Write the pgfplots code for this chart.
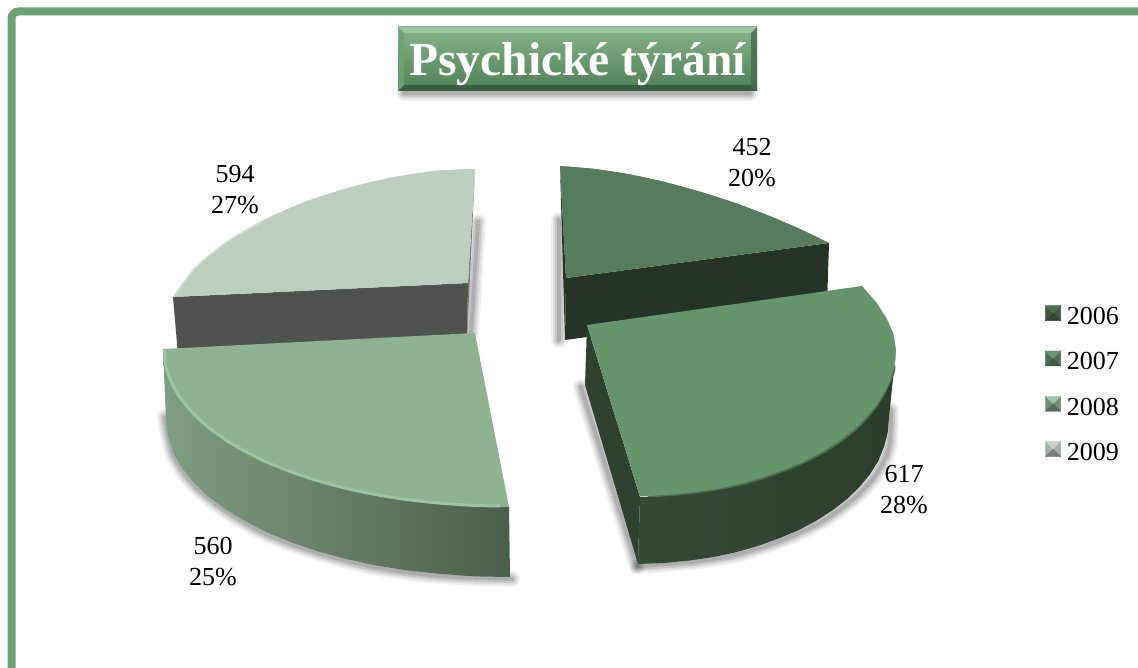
\documentclass[border=0pt]{standalone}
\usepackage{fontspec}
\setmainfont{Liberation Serif}
\usepackage{pgfplots}
\pgfplotsset{compat=1.18}
\definecolor{frame}{HTML}{6FA275}
\definecolor{titleA}{HTML}{85B588}
\definecolor{titleB}{HTML}{4F8056}
\definecolor{titleC}{HTML}{3A5F3E}
\definecolor{topA}{HTML}{577C5B}
\definecolor{wallA}{HTML}{253426}
\definecolor{topB}{HTML}{66956C}
\definecolor{wallB}{HTML}{2B3E2C}
\definecolor{topC}{HTML}{8FB291}
\definecolor{rimC}{HTML}{9CC6A0}
\definecolor{wallCl}{HTML}{7F9E82}
\definecolor{wallCr}{HTML}{4A5F4B}
\definecolor{topD}{HTML}{BCCFBF}
\definecolor{wallD}{HTML}{4D544B}
% soft shadow: stacked strokes
\newcommand\soft[1]{%
  \addplot[black,opacity=.06,line width=16pt,line cap=round,smooth,forget plot] coordinates {#1};
  \addplot[black,opacity=.08,line width=12pt,line cap=round,smooth,forget plot] coordinates {#1};
  \addplot[black,opacity=.10,line width=8pt,line cap=round,smooth,forget plot] coordinates {#1};
  \addplot[black,opacity=.12,line width=4pt,line cap=round,smooth,forget plot] coordinates {#1};
}
\newcommand\pyr[4]{%
  \addlegendimage{legend image code/.code={
    \fill[#2] (0pt,-4pt)--(0pt,11pt)--(7.5pt,3.5pt)--cycle;
    \fill[#2] (15pt,-4pt)--(15pt,11pt)--(7.5pt,3.5pt)--cycle;
    \fill[#1] (0pt,11pt)--(15pt,11pt)--(7.5pt,3.5pt)--cycle;
    \fill[#3] (0pt,-4pt)--(15pt,-4pt)--(7.5pt,3.5pt)--cycle;
  }}
  \addlegendentry{#4}
}
\begin{document}
\begin{tikzpicture}
\begin{axis}[
  scale only axis,
  width=1138pt,height=668pt,
  xmin=0,xmax=1138,ymin=0,ymax=668,
  y dir=reverse,
  hide axis,
  title={Psychické týrání},
  title style={at={(0.5075,0.895)},anchor=center,text=white,
    font=\fontsize{47.5}{52}\selectfont\bfseries},
  legend style={at={(0.9185,0.543)},anchor=north west,draw=none,fill=none,
    inner sep=0pt,row sep=24.7pt,column sep=6pt,font=\fontsize{26}{28}\selectfont,
    nodes={inner sep=0pt}},
  legend cell align=left,
  every axis plot/.append style={forget plot},
]
\path (axis cs:0,0) rectangle (axis cs:1138,668);
% frame, open to the right and below
\addplot[frame,line width=8pt,rounded corners=7pt] coordinates {(11.5,700) (11.5,11.5) (1170,11.5)};

% title box
\soft{(404,93) (750,93)}
\addplot[draw=none,top color=titleA,bottom color=titleB] coordinates {(398,27) (757,27) (757,91) (398,91)};
\addplot[draw=none,fill=rimC] coordinates {(398,27) (757,27) (751,33) (404,33)};
\addplot[draw=none,fill=titleC] coordinates {(398,91) (757,91) (751,85) (404,85)};
\addplot[draw=none,fill=frame,opacity=.8] coordinates {(398,27) (404,33) (404,85) (398,91)};
\addplot[draw=none,fill=black!35!frame,opacity=.8] coordinates {(757,27) (751,33) (751,85) (757,91)};

% back slices: shadows
\soft{(559,220) (559,340)}
\soft{(478,222) (471,333)}

% 2006
\addplot[draw=none,fill=wallA] coordinates {(566,278) (829,243) (827,305) (565,340)};
\addplot[draw=none,fill=wallA] coordinates {(560,166) (566,278) (565,340)};
\addplot[draw=none,fill=topA] coordinates {(566,278) (560,166) (594.3,168.9) (629.6,174.3) (665.1,182.1) (700.5,191.8) (735,202.9) (768.4,215.5) (799.9,229) (829,243)};
\addplot[draw=none,fill=topA,smooth] coordinates {(560,166) (594.3,168.9) (629.6,174.3) (665.1,182.1) (700.5,191.8) (735,202.9) (768.4,215.5) (799.9,229) (829,243)};

% 2009
\addplot[draw=none,fill=wallD] coordinates {(173,297) (468,283) (467,340) (178,355)};
\addplot[draw=none,fill=wallD!70!topD] coordinates {(475,169) (468,283) (467,340)};
\addplot[draw=none,fill=topD] coordinates {(468,283) (475,169) (436.5,170.8) (394.1,177) (349.6,187.5) (305,201.9) (263.2,220.2) (225.8,242.2) (195,267.9) (173,297)};
\addplot[draw=none,fill=topD,smooth] coordinates {(475,169) (436.5,170.8) (394.1,177) (349.6,187.5) (305,201.9) (263.2,220.2) (225.8,242.2) (195,267.9) (173,297)};
\addplot[topD!65!white,line width=1.5pt,smooth] coordinates {(263.2,220.6) (225.8,242.6) (195,268.3) (173.5,297)};

% 2007
\soft{(581,387) (637,566)}
\soft{(891,410) (889,447) (875,476) (851,501) (819,523) (782,540) (739,554) (691,562) (638,566)}
\addplot[draw=none,fill=wallB!95!topB] coordinates {(587,325) (640,497) (638,564) (585,385)};
\addplot[draw=none,left color=wallB!85!topB,middle color=wallB,right color=wallB] coordinates {(640,497) (666.8,496) (692.5,493.5) (717.5,490) (741,485) (763.6,478.5) (784.6,471) (804,463) (822,453.5) (838.7,443) (853,432) (865.8,420) (876.4,407.4) (885,394) (891,380) (894.8,365) (896,350) (889,417) (887.8,432) (884,447) (878.3,461) (869.9,474.4) (859.5,487) (847,499) (833,510) (816.6,520.5) (799,530) (780,538) (759.3,545.5) (737,552) (714,557) (689.5,560.5) (664.3,563) (638,564)};
\addplot[black!55!topB,line width=5pt,smooth] coordinates {(648,495) (692.5,491) (741,482.5) (784.6,468.5) (822,451) (853,430) (875,406) (889,380) (893,368)};
\addplot[black!25!topB,line width=3pt,smooth] coordinates {(648,496) (692.5,492.5) (741,484) (784.6,470) (822,452.5) (853,431) (875.5,406.5) (890,380) (894,366)};
\addplot[draw=none,fill=topB] coordinates {(587,325) (862,286) (876,302) (886.5,318) (893.5,334) (896,350) (894.3,365) (890.5,380) (884,393.5) (875.4,406.4) (864.8,419) (852,431) (837.7,442) (821,452.5) (803,462) (783.6,470) (762.6,477.5) (740,484) (716.5,489) (691.5,492.5) (665.8,495) (640,496.5)};

% 2008
\soft{(165,417) (173,454) (193,484) (226,511) (267,534.5) (318,553) (376,567.5) (441,576) (512,579)}
\addplot[draw=none,left color=wallCl,right color=wallCr] coordinates {(163,349) (164.8,365.8) (170.1,381.9) (178.7,397.4) (190.5,412.1) (205.1,426.2) (222.6,439.2) (242.7,451.3) (265,462.5) (289.7,472.4) (316.4,481.4) (345,489.1) (375.1,495.5) (406.9,500.5) (439.9,504.1) (473.9,506.4) (509,507) (510,577) (474.2,576.4) (440.6,574) (408,570.5) (376,565.5) (346.4,559) (318,551.4) (291.5,542.4) (267,532.5) (245,521) (225,509) (207.7,496) (193.3,482) (181.6,467.4) (173,452) (168,436) (166,419)};
\addplot[draw=none,fill=topC] coordinates {(475,333) (163,349) (164.8,365.8) (170.1,381.9) (178.7,397.4) (190.5,412.1) (205.1,426.2) (222.6,439.2) (242.7,451.3) (265,462.5) (289.7,472.4) (316.4,481.4) (345,489.1) (375.1,495.5) (406.9,500.5) (439.9,504.1) (473.9,506.4) (509,507)};
\addplot[rimC,line width=3pt,smooth] coordinates {(164,350) (165.8,365.8) (171.1,381.4) (179.7,396.9) (191.5,411.4) (206,425.4) (223.3,438.2) (243.3,450.3) (265.5,461.5) (290,471.4) (316.7,480.4) (345.2,488.1) (375.3,494.5) (407,499.5) (440,503.1) (474,505.4) (500,506)};

% legend
\pyr{black!10!topA}{black!30!topA}{black!45!topA}{2006}
\pyr{topB}{black!25!topB}{black!40!topB}{2007}
\pyr{rimC}{black!20!topC}{black!40!topC}{2008}
\pyr{topD!90!white}{black!15!topD}{black!38!topD}{2009}

% data labels
\node[align=center,font=\fontsize{26}{31}\selectfont] at (axis cs:752,163) {452\\20\%};
\node[align=center,font=\fontsize{26}{31}\selectfont] at (axis cs:904,490) {617\\28\%};
\node[align=center,font=\fontsize{26}{31}\selectfont] at (axis cs:235,190) {594\\27\%};
\node[align=center,font=\fontsize{26}{31}\selectfont] at (axis cs:213,562) {560\\25\%};
\end{axis}
\end{tikzpicture}
\end{document}
